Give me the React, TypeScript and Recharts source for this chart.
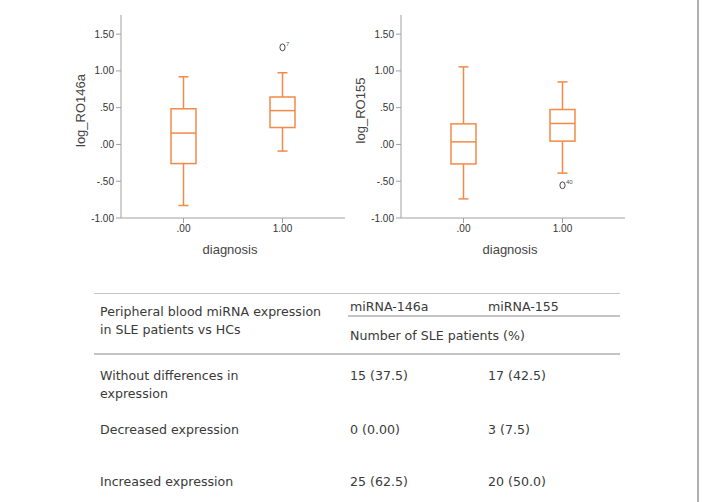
import { ComposedChart, Bar, Scatter, XAxis, YAxis, Label } from "recharts"

const categories = [".00", "1.00"]
const yTicks = [-1, -0.5, 0, 0.5, 1, 1.5]

// log_RO146a box plot: whisker low, Q1, median, Q3, whisker high
const r146aLow = [-0.83, -0.09]
const r146aQ1 = [-0.26, 0.23]
const r146aMedian = [0.155, 0.46]
const r146aQ3 = [0.485, 0.645]
const r146aHigh = [0.92, 0.975]
const r146aOutlier = [null, 1.32]
const r146aCase = ["", "7"]

// log_RO155 box plot
const r155Low = [-0.74, -0.39]
const r155Q1 = [-0.265, 0.045]
const r155Median = [0.035, 0.285]
const r155Q3 = [0.28, 0.475]
const r155High = [1.055, 0.85]
const r155Outlier = [null, -0.555]
const r155Case = ["", "40"]

// table
const tableHeader = "Peripheral blood miRNA expression in SLE patients vs HCs"
const mirnaNames = ["miRNA-146a", "miRNA-155"]
const subHeader = "Number of SLE patients (%)"
const rowLabels = ["Without differences in expression", "Decreased expression", "Increased expression"]
const mir146aCounts = ["15", "0", "25"]
const mir146aPct = ["37.5", "0.00", "62.5"]
const mir155Counts = ["17", "3", "20"]
const mir155Pct = ["42.5", "7.5", "50.0"]

const ORANGE = "#f28a48"
const AXIS = "#a0a0a0"
const CHART_FONT = "'Liberation Sans', Arial, sans-serif"
const TABLE_FONT = "'DejaVu Sans', sans-serif"

type BoxRow = {
  diagnosis: string
  range: [number, number]
  q1: number
  median: number
  q3: number
  outlier: number | null
  caseNo: string
}

function buildRows(
  low: number[], q1: number[], med: number[], q3: number[], high: number[],
  outlier: (number | null)[], cases: string[]
): BoxRow[] {
  return categories.map((c, i) => ({
    diagnosis: c,
    range: [low[i], high[i]],
    q1: q1[i],
    median: med[i],
    q3: q3[i],
    outlier: outlier[i],
    caseNo: cases[i],
  }))
}

const formatTick = (v: number) => v.toFixed(2).replace(/^(-?)0\./, "$1.")

// whisker range comes from the bar; quartiles are placed on the same linear scale
function BoxShape(props: any) {
  const { x, y, width, height, payload } = props
  if (x == null || y == null) return null
  const top = Math.min(y, y + height)
  const h = Math.abs(height)
  const [lo, hi] = payload.range
  const toY = (v: number) => top + ((hi - v) / (hi - lo)) * h
  const cx = x + width / 2
  const yQ3 = toY(payload.q3)
  const yQ1 = toY(payload.q1)
  const yMed = toY(payload.median)
  return (
    <g stroke={ORANGE} strokeWidth={1.5} fill="none">
      <line x1={cx} y1={top} x2={cx} y2={yQ3} />
      <line x1={cx} y1={yQ1} x2={cx} y2={top + h} />
      <line x1={cx - 5} y1={top} x2={cx + 5} y2={top} />
      <line x1={cx - 5} y1={top + h} x2={cx + 5} y2={top + h} />
      <rect x={x} y={yQ3} width={width} height={yQ1 - yQ3} fill="#fff" />
      <line x1={x} y1={yMed} x2={x + width} y2={yMed} />
    </g>
  )
}

function OutlierShape(props: any) {
  const { cx, cy, payload } = props
  if (payload.outlier == null || cx == null || cy == null) return null
  return (
    <g>
      <ellipse cx={cx} cy={cy} rx={2.6} ry={3.4} fill="none" stroke="#444" strokeWidth={1} />
      <text x={cx + 3.5} y={cy - 1.5} fontSize={6} fill="#555" fontFamily={CHART_FONT}>
        {payload.caseNo}
      </text>
    </g>
  )
}

function BoxPlot({ data, yLabel }: { data: BoxRow[]; yLabel: string }) {
  return (
    <ComposedChart
      width={350}
      height={265}
      data={data}
      margin={{ top: 15, right: 5, bottom: 10, left: 0 }}
      style={{ fontFamily: CHART_FONT }}
    >
      <XAxis
        dataKey="diagnosis"
        type="category"
        padding={{ left: 13, right: 13 }}
        height={37}
        stroke={AXIS}
        tickSize={5}
        tick={{ fill: "#333", fontSize: 10, fontFamily: CHART_FONT }}
      >
        <Label
          content={({ viewBox }: any) => (
            <text
              x={viewBox.x + viewBox.width / 2 - 3}
              y={viewBox.y + 31}
              textAnchor="middle"
              dominantBaseline="central"
              fontSize={13}
              fontFamily={CHART_FONT}
              fill="#444"
            >
              diagnosis
            </text>
          )}
        />
      </XAxis>
      <YAxis
        type="number"
        domain={[-1, 1.76]}
        ticks={yTicks}
        tickFormatter={formatTick}
        width={121}
        stroke={AXIS}
        tickSize={5}
        tick={{ fill: "#333", fontSize: 10, fontFamily: CHART_FONT }}
      >
        <Label
          content={({ viewBox }: any) => {
            const lx = viewBox.x + 80
            const ly = viewBox.y + viewBox.height / 2 - 6
            return (
              <text
                x={lx}
                y={ly}
                transform={`rotate(-90 ${lx} ${ly})`}
                textAnchor="middle"
                dominantBaseline="central"
                fontSize={13}
                fontFamily={CHART_FONT}
                fill="#444"
              >
                {yLabel}
              </text>
            )
          }}
        />
      </YAxis>
      <Bar dataKey="range" barSize={25} shape={<BoxShape />} isAnimationActive={false} />
      <Scatter dataKey="outlier" shape={<OutlierShape />} isAnimationActive={false} />
    </ComposedChart>
  )
}

const abs = (left: number, top: number, extra: any = {}) => ({
  position: "absolute" as const,
  left,
  top,
  ...extra,
})

export default function App() {
  const rows146a = buildRows(r146aLow, r146aQ1, r146aMedian, r146aQ3, r146aHigh, r146aOutlier, r146aCase)
  const rows155 = buildRows(r155Low, r155Q1, r155Median, r155Q3, r155High, r155Outlier, r155Case)
  const rowTops = [367, 421, 472.7]
  const textStyle = { fontFamily: TABLE_FONT, fontSize: 12.6, lineHeight: "18px", color: "#3a3a3a" }
  const rule = { height: 1.5, background: "#c4c4c4" }

  return (
    <div style={{ position: "absolute", left: 0, top: 0, width: 703, height: 502, background: "#fff", overflow: "hidden" }}>
      <div style={abs(0, 0)}>
        <BoxPlot data={rows146a} yLabel="log_RO146a" />
      </div>
      <div style={abs(280, 0)}>
        <BoxPlot data={rows155} yLabel="log_RO155" />
      </div>

      <div style={abs(94, 292.5, { ...rule, width: 526 })} />
      <div style={abs(348, 315.3, { ...rule, width: 272 })} />
      <div style={abs(94, 353.3, { ...rule, width: 526 })} />

      <div style={abs(100, 302.7, { ...textStyle, width: 228 })}>{tableHeader}</div>
      <div style={abs(350, 298.3, textStyle)}>{mirnaNames[0]}</div>
      <div style={abs(488, 298.3, textStyle)}>{mirnaNames[1]}</div>
      <div style={abs(350, 327, textStyle)}>{subHeader}</div>

      {rowLabels.map((label, i) => (
        <div key={label}>
          <div style={abs(100, rowTops[i], { ...textStyle, width: 175 })}>{label}</div>
          <div style={abs(350, rowTops[i], textStyle)}>{`${mir146aCounts[i]} (${mir146aPct[i]})`}</div>
          <div style={abs(488, rowTops[i], textStyle)}>{`${mir155Counts[i]} (${mir155Pct[i]})`}</div>
        </div>
      ))}

      <div style={abs(696.7, 0, { width: 2, height: 502, background: "#b0b0b0" })} />
    </div>
  )
}
